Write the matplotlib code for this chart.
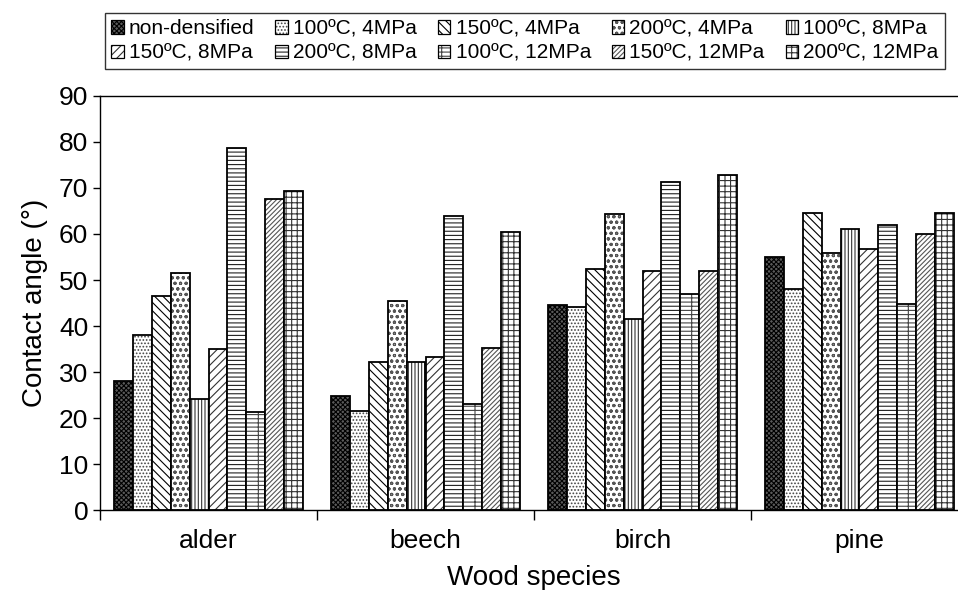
import matplotlib
matplotlib.use("Agg")
import matplotlib.pyplot as plt
from matplotlib.patches import Rectangle
from matplotlib.legend_handler import HandlerTuple
import numpy as np

plt.rcParams['font.family'] = ['Liberation Sans', 'DejaVu Sans']
plt.rcParams['hatch.linewidth'] = 0.8

species = ["alder", "beech", "birch", "pine"]
treatments = ["non-densified", "100ºC, 4MPa", "150ºC, 4MPa", "200ºC, 4MPa", "100ºC, 8MPa",
              "150ºC, 8MPa", "200ºC, 8MPa", "100ºC, 12MPa", "150ºC, 12MPa", "200ºC, 12MPa"]

non_densified = [28.0, 24.7, 44.6, 54.9]
t100_4 = [38.0, 21.6, 44.2, 48.1]
t150_4 = [46.5, 32.2, 52.5, 64.5]
t200_4 = [51.6, 45.5, 64.4, 55.9]
t100_8 = [24.1, 32.2, 41.5, 61.0]
t150_8 = [35.0, 33.2, 52.0, 56.7]
t200_8 = [78.8, 63.9, 71.3, 61.9]
t100_12 = [21.3, 23.0, 47.0, 44.7]
t150_12 = [67.6, 35.3, 52.0, 60.1]
t200_12 = [69.4, 60.5, 72.8, 64.5]

series = [non_densified, t100_4, t150_4, t200_4, t100_8, t150_8, t200_8, t100_12, t150_12, t200_12]

faces = ['#5a5a5a', 'white', 'white', 'white', 'white', 'white', 'white', 'white', 'white', 'white']
hatch_cols = ['black', '#444444', 'black', '#555555', '#333333', '#333333', '#222222', '#444444', '#555555', '#333333']
hatches = ['x' * 7, '.' * 5, '\\' * 4, 'o' * 3, '|' * 5, '/' * 4, '-' * 4, '-' * 3 + '+', '/' * 7, '+' * 3]

fig = plt.figure(figsize=(9.58, 5.9), dpi=100)
ax = fig.add_axes([100/958, 80/590, 868/958, 414/590])

x = np.arange(len(species))
w = 0.0875
handles = []
for i, (vals, fc, hc, h, lab) in enumerate(zip(series, faces, hatch_cols, hatches, treatments)):
    pos = x + (i - 4.5) * w
    ax.bar(pos, vals, width=w, facecolor=fc, edgecolor=hc, hatch=h, linewidth=0)
    ax.bar(pos, vals, width=w, fill=False, edgecolor='black', linewidth=1.3)
    handles.append((Rectangle((0, 0), 1, 1, facecolor=fc, edgecolor=hc, hatch=h, linewidth=0),
                    Rectangle((0, 0), 1, 1, fill=False, edgecolor='black', linewidth=0.9)))

ax.set_xlim(-0.5, 3.5)
ax.set_ylim(0, 90)
ax.set_yticks(np.arange(0, 91, 10))
ax.set_xticks(np.arange(-0.5, 3.6, 1.0))
ax.set_xticklabels([])
ax.set_xticks(x, minor=True)
ax.set_xticklabels(species, minor=True)
ax.tick_params(axis='x', which='major', direction='out', length=7, width=1)
ax.tick_params(axis='x', which='minor', length=0, pad=14, labelsize=19)
ax.tick_params(axis='y', direction='out', length=5, width=1, labelsize=19)
for s in ax.spines.values():
    s.set_linewidth(1.0)
ax.spines['right'].set_visible(False)

ax.set_xlabel("Wood species", fontsize=20, labelpad=8)
ax.set_ylabel("Contact angle (°)", fontsize=20, labelpad=8)

order = [0, 5, 1, 6, 2, 7, 3, 8, 4, 9]
leg = fig.legend([handles[k] for k in order], [treatments[k] for k in order],
                 handler_map={tuple: HandlerTuple(ndivide=1, pad=0)},
                 loc='upper left', bbox_to_anchor=(105/958, 1 - 13/590), ncol=5,
                 fontsize=15, frameon=True, fancybox=False, edgecolor='black',
                 handlelength=0.6, handleheight=0.6, handletextpad=0.25,
                 columnspacing=1.0, borderpad=0.3, labelspacing=0.25, borderaxespad=0)
leg.get_frame().set_linewidth(1.0)

fig.savefig("out.png", dpi=100)
